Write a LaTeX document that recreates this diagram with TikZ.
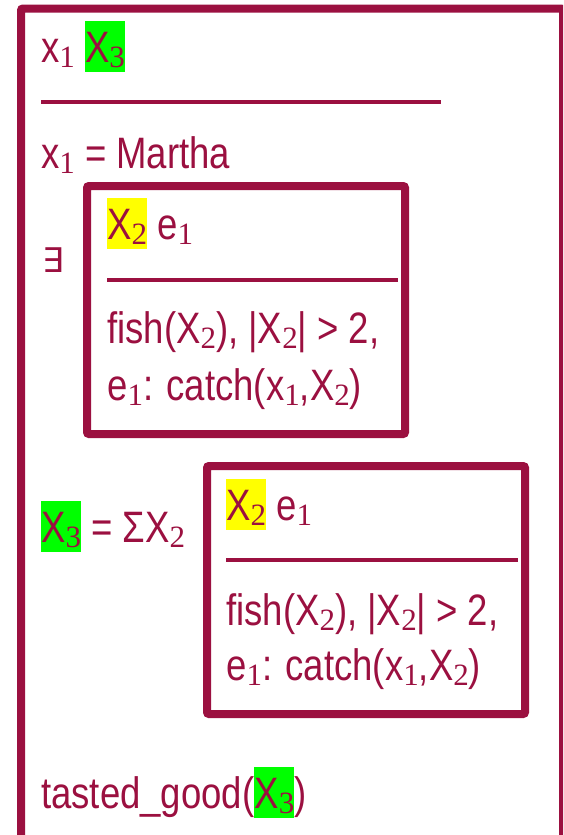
\documentclass[tikz,border=0pt]{standalone}
\usepackage{fontspec}
\setsansfont{Liberation Sans}[FakeStretch=0.83]
\newfontfamily\subfont{Liberation Serif}
\newfontfamily\symfont{DejaVu Sans}
\definecolor{drsred}{RGB}{155,16,64}
\definecolor{hlgreen}{RGB}{0,255,0}
\definecolor{hlyellow}{RGB}{255,255,0}
\newcommand{\sbs}[1]{\raisebox{-5pt}{\subfont\fontsize{31}{31}\selectfont #1}}
\newcommand{\hl}[2]{{\setlength{\fboxsep}{0pt}\colorbox{#1}{\rule[-10pt]{0pt}{51pt}#2}}}

\begin{document}
\begin{tikzpicture}[x=1pt,y=-1pt,
	every node/.style={font=\sffamily\fontsize{44}{52}\selectfont, text=drsred, inner sep=0pt, anchor=base west},
	drsbox/.style={draw=drsred, line width=8pt, rounded corners=2pt},
	drsrule/.style={draw=drsred, line width=3.5pt}]
		\useasboundingbox (0,0) rectangle (563,835);
		\begin{scope}
			\clip (0,0) rectangle (563,835);
			\draw[drsbox] (21,900) -- (21,8.5) -- (563,8.5) -- (563,900);
		\end{scope}
		% outer box
		\node (top) at (41,62) {x\sbs{1} \hl{hlgreen}{X\sbs{3}}};
		\coordinate (r0a) at (41,102); \coordinate (r0b) at (441,102);
		\node (mar) at (41,168) {x\sbs{1} = Martha};
		\node[anchor=center, font=\symfont\fontsize{34}{34}\selectfont] (ex) at (53,260) {∃};
		% first inner box
		\draw[drsbox] (87,186) rectangle (405,434);
		\node (u1) at (107,239) {\hl{hlyellow}{X\sbs{2}} e\sbs{1}};
		\coordinate (r1a) at (107,280); \coordinate (r1b) at (398,280);
		\node (c1a) at (107,343) {fish(X\sbs{2}), |X\sbs{2}| > 2,};
		\node (c1b) at (107,400) {e\sbs{1}: catch(x\sbs{1},X\sbs{2})};
		% sum and second inner box
		\node (sum) at (41,542) {\hl{hlgreen}{X\sbs{3}} = ΣX\sbs{2}};
		\draw[drsbox] (207,466) rectangle (525,714);
		\node (u2) at (226,520) {\hl{hlyellow}{X\sbs{2}} e\sbs{1}};
		\coordinate (r2a) at (226,560); \coordinate (r2b) at (518,560);
		\node (c2a) at (226,625) {fish(X\sbs{2}), |X\sbs{2}| > 2,};
		\node (c2b) at (226,680) {e\sbs{1}: catch(x\sbs{1},X\sbs{2})};
		\node (tg) at (41,808) {tasted\_good(\hl{hlgreen}{X\sbs{3}})};
		\draw[drsrule] (r0a) -- (r0b);
		\draw[drsrule] (r1a) -- (r1b);
		\draw[drsrule] (r2a) -- (r2b);
	\end{tikzpicture}
\end{document}
